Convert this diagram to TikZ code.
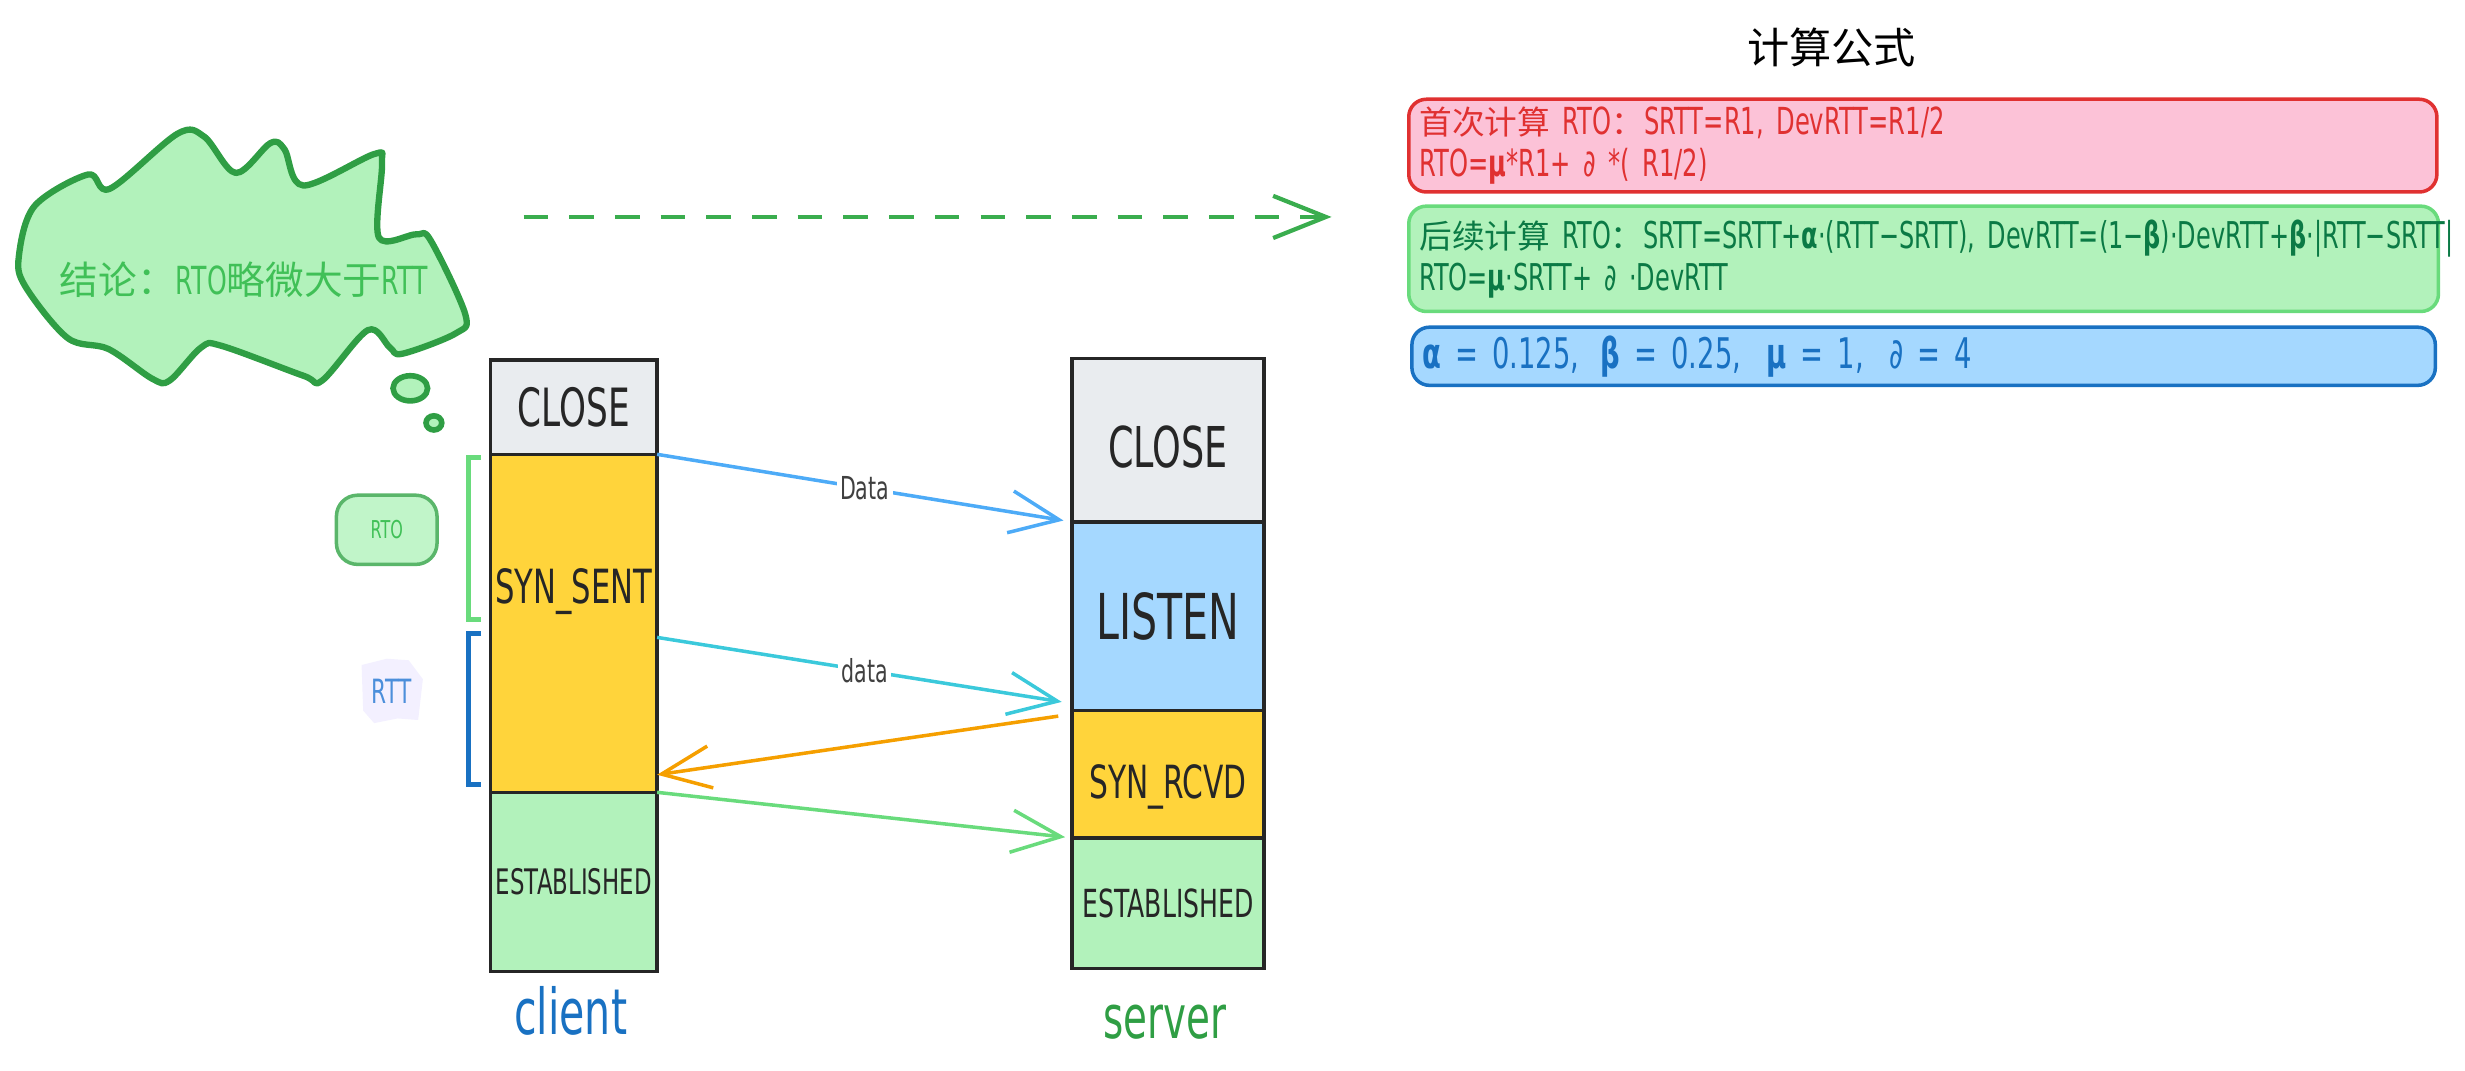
\documentclass[tikz,border=0pt]{standalone}
\usepackage{fontspec}
\setmainfont[FakeStretch=0.65]{DejaVu Sans}
\newfontfamily\cjk{Noto Sans CJK SC}
\usetikzlibrary{arrows.meta}
\newcommand\pxl{0.01572cm}
\newcommand\fsz[1]{\fontsize{#1}{#1}\selectfont}
\newcommand\gk[1]{{\bfseries #1}}
\newcommand\zh[1]{{\fontsize{9.3}{12}\cjk #1}}
\definecolor{stgray}{HTML}{E9ECEF}
\definecolor{styellow}{HTML}{FFD43B}
\definecolor{stblue}{HTML}{A5D8FF}
\definecolor{stgreen}{HTML}{B2F2BB}
\definecolor{fpink}{HTML}{FCC2D7}
\definecolor{fred}{HTML}{E03131}
\definecolor{fgreen}{HTML}{69DB7C}
\definecolor{fdgreen}{HTML}{0B7A45}
\definecolor{fblue}{HTML}{1971C2}
\definecolor{cgreen}{HTML}{2F9E44}
\definecolor{tgreen}{HTML}{40C057}
\definecolor{rtoline}{HTML}{5AB66A}
\definecolor{adata}{HTML}{4DABF7}
\definecolor{acyan}{HTML}{3BC9DB}
\definecolor{aorange}{HTML}{F59F00}
\definecolor{lav}{HTML}{F3F0FF}
\definecolor{rttblue}{HTML}{4C8FDB}

\begin{document}
\begin{tikzpicture}[x=\pxl, y=-\pxl,
    state/.style={draw=black!85, line width=1pt, inner sep=0pt, outer sep=0pt,
      anchor=north west, text=black!85},
    msg/.style={line width=1pt, -{Straight Barb[length=14pt,width=12pt]}},
    msglbl/.style={fill=white, inner sep=1pt, font=\fsz{9}, text=black!75},
    formula/.style={rounded corners=5pt, line width=1pt, anchor=north west,
      inner xsep=3pt, inner ysep=0pt, align=left},
    brk/.style={line width=1.3pt}]
  \useasboundingbox (0,0) rectangle (1568,681);

  % Облако с выводом
  \draw[cgreen, fill=stgreen, line width=1.8pt, line join=round]
    plot[smooth cycle, tension=0.55] coordinates {(12,163) (22,131) (56,111) (70,120)
      (113,85) (130,87) (150,110) (172,91) (181,95) (193,118) (238,98) (243,104)
      (241,151) (265,149) (274,153) (296,200) (290,212) (256,225) (248,221)
      (234,210) (205,242) (193,239) (141,220) (128,221) (108,242) (97,241)
      (69,222) (43,215) (16,182)};
  \draw[cgreen, fill=stgreen, line width=1.6pt] (261,247) ellipse [x radius=11, y radius=8];
  \draw[cgreen, fill=stgreen, line width=1.6pt] (276,269) ellipse [x radius=5, y radius=4.5];
  \node[text=tgreen, font=\fsz{11}] (concl) at (155,178)
    {\cjk 结论：\normalfont RTO\cjk 略微大于\normalfont RTT};

  % Пунктирная стрелка
  \coordinate (dashs) at (333,138);
  \coordinate (dashe) at (847,138);
  \draw[tgreen!90!black, line width=1.2pt, dash pattern=on 7pt off 6pt,
    -{Straight Barb[length=15pt,width=12pt]}] (dashs) -- (dashe);

  % Формулы
  \node[text=black, font=\fsz{12}\cjk] (title) at (1165,30) {计算公式};
  \node[formula, draw=fred, fill=fpink, text=fred, font=\fontsize{10.6}{12}\selectfont,
    minimum width=654*\pxl, minimum height=59*\pxl, text width=654*\pxl-6pt]
    (first) at (895,62)
    {\zh{首次计算} RTO\zh{：}SRTT=R1, DevRTT=R1/2\\
     RTO=\gk{μ}*R1+ ∂ *( R1/2)};
  \node[formula, draw=fgreen, fill=stgreen, text=fdgreen, font=\fontsize{10.5}{12}\selectfont,
    minimum width=655*\pxl, minimum height=67*\pxl, text width=655*\pxl-6pt]
    (next) at (895,130)
    {\mbox{\zh{后续计算} RTO\zh{：}SRTT=SRTT+\gk{α}·(RTT−SRTT), DevRTT=(1−\gk{β})·DevRTT+\gk{β}·|RTT−SRTT|}\\
     RTO=\gk{μ}·SRTT+ ∂ ·DevRTT};
  \node[formula, draw=fblue, fill=stblue, text=fblue, font=\fsz{12},
    minimum width=651*\pxl, minimum height=37*\pxl, text width=651*\pxl-6pt]
    (consts) at (897,207)
    {\gk{α} = 0.125,\hspace{0.5em}\gk{β} = 0.25,\hspace{0.6em}\gk{μ} = 1,\hspace{0.6em}∂ = 4};

  % Клиент
  \node[state, fill=stgray, font=\fsz{15}, minimum width=106*\pxl, minimum height=60*\pxl]
    (cclose) at (312,229) {CLOSE};
  \node[state, fill=styellow, minimum width=106*\pxl, minimum height=215*\pxl,
    label={[name=csenttxt, yshift=9pt, font=\fsz{13.4}, text=black!85]center:SYN\_SENT}]
    (csent) at (312,289) {};
  \node[state, fill=stgreen, font=\fsz{10}, minimum width=106*\pxl, minimum height=114*\pxl]
    (cestab) at (312,504) {ESTABLISHED};
  \node[text=fblue, font=\fsz{18}] (client) at (363,643) {client};

  % Сервер
  \node[state, fill=stgray, minimum width=122*\pxl, minimum height=104*\pxl,
    label={[name=sclosetxt, yshift=-2pt, font=\fsz{16}, text=black!85]center:CLOSE}]
    (sclose) at (682,228) {};
  \node[state, fill=stblue, font=\fsz{18}, minimum width=122*\pxl, minimum height=120*\pxl]
    (slisten) at (682,332) {LISTEN};
  \node[state, fill=styellow, minimum width=122*\pxl, minimum height=81*\pxl,
    label={[name=srcvdtxt, yshift=-3.5pt, font=\fsz{13}, text=black!85]center:SYN\_RCVD}]
    (srcvd) at (682,452) {};
  \node[state, fill=stgreen, font=\fsz{11}, minimum width=122*\pxl, minimum height=83*\pxl]
    (sestab) at (682,533) {ESTABLISHED};
  \node[text=cgreen, font=\fsz{17}] (server) at (741,650) {server};

  % RTO и RTT
  \draw[brk, fgreen] (306,291) -- (298,291) -- (298,394) -- (306,394);
  \draw[brk, fblue] (306,403) -- (298,403) -- (298,499) -- (306,499);
  \node[draw=rtoline, fill=stgreen!80, line width=1pt, rounded corners=6pt,
    minimum width=64*\pxl, minimum height=44*\pxl, text=tgreen, font=\fsz{7}]
    (rto) at (246,337) {RTO};
  \fill[lav] (230,423) -- (246,419) -- (260,420) -- (269,432) -- (266,458)
    -- (253,457) -- (238,460) -- (231,452) -- cycle;
  \node[text=rttblue, font=\fsz{9.5}] (rtt) at (249,440) {RTT};

  % Сообщения
  \draw[msg, adata, shorten >=2.5pt] (cclose.south east) -- (slisten.north west)
    node[msglbl, midway] (lbldata) {Data};
  \draw[msg, acyan, shorten >=3pt] ([yshift=-4pt]csent.east) -- ([yshift=2pt]slisten.south west)
    node[msglbl, midway] (lbldata2) {data};
  \draw[msg, aorange, shorten <=4pt] ([yshift=-1pt]srcvd.north west) -- ([yshift=5pt]csent.south east);
  \draw[msg, fgreen, shorten >=2pt] (cestab.north east) -- (sestab.north west);
\end{tikzpicture}
\end{document}
